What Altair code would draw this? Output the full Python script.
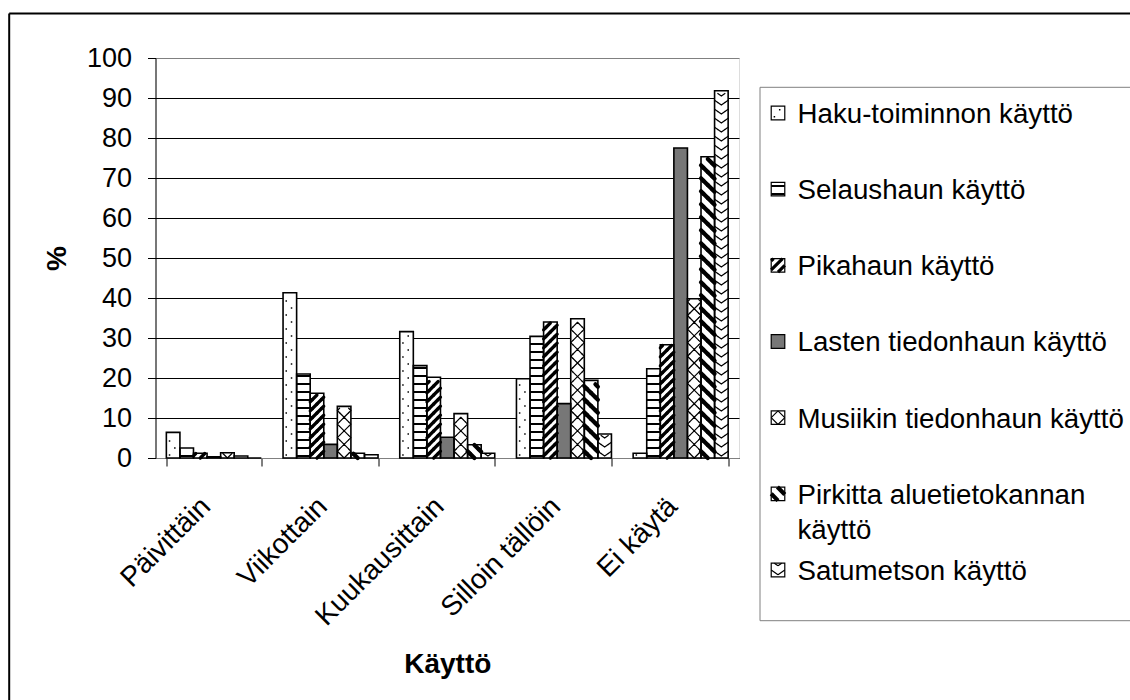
import math
import altair as alt
import pandas as pd

# ---------------- data ----------------
cats = ["Päivittäin", "Viikottain", "Kuukausittain", "Silloin tällöin", "Ei käytä"]
series = [
    "Haku-toiminnon käyttö",
    "Selaushaun käyttö",
    "Pikahaun käyttö",
    "Lasten tiedonhaun käyttö",
    "Musiikin tiedonhaun käyttö",
    "Pirkitta aluetietokannan käyttö",
    "Satumetson käyttö",
]
haku = [6.4, 41.3, 31.6, 19.8, 1.2]
selaus = [2.5, 21.0, 23.1, 30.4, 22.3]
pika = [1.2, 16.2, 20.2, 34.0, 28.3]
lasten = [0.3, 3.4, 5.2, 13.6, 77.5]
musiikki = [1.3, 12.9, 11.1, 34.8, 39.8]
pirkitta = [0.5, 1.2, 3.3, 19.4, 75.3]
satumetso = [0.0, 0.8, 1.2, 6.0, 91.8]
y_ticks = list(range(0, 101, 10))

values = [haku, selaus, pika, lasten, musiikki, pirkitta, satumetso]
rows = []
for s, vals in zip(series, values):
    for c, v in zip(cats, vals):
        rows.append({"cat": c, "series": s, "value": v})
df = pd.DataFrame(rows)
leg_df = pd.DataFrame({"series": series})

# ---------------- layout / style ----------------
FONT = "Liberation Sans"
W = 583.5
H = 400.0
PXU = H / 100.0            # pixels per percent unit
P_IN = 0.186
P_OUT = P_IN / 2
step = W / len(cats)
w = step * (1 - P_IN) / len(series)   # single bar width in px

fills = ["white", "white", "white", "#777777", "white", "white", "white"]
color_scale = alt.Scale(domain=series, range=fills)


def band_path(fams, lo, hi):
    """SVG path (unit coords) of hatch lines clipped to the band [lo, hi] (px, upward)."""
    uc = (lo + hi) / 2
    r = w / 2
    parts = []
    for a, b, P, x0, x1 in fams:
        span = abs(a) * max(abs(x0), abs(x1))
        n0 = math.floor((lo - span - b) / P) - 1
        n1 = math.ceil((hi + span - b) / P) + 1
        for n in range(n0, n1 + 1):
            c = b + n * P
            if a == 0:
                if not (lo <= c < hi):
                    continue
                X1, U1, X2, U2 = x0, c, x1, c
            else:
                xa = (lo - c) / a
                xb = (hi - c) / a
                xl = max(min(xa, xb), x0)
                xr = min(max(xa, xb), x1)
                if xr - xl <= 1e-6:
                    continue
                X1, U1, X2, U2 = xl, c + a * xl, xr, c + a * xr
            parts.append(
                f"M{X1 / r:.3f},{-(U1 - uc) / r:.3f}L{X2 / r:.3f},{-(U2 - uc) / r:.3f}"
            )
    return "".join(parts) or "M0,0"


hw = w / 2
patterns = {
    0: dict(fams=[(0, 3.0, 14.0, -0.32 * w, -0.21 * w), (0, 10.0, 14.0, 0.07 * w, 0.18 * w)],
            P=14.0, m=3, sw=1.5, cap="butt"),
    1: dict(fams=[(0, 2.0, 8.0, -hw, hw)], P=8.0, m=2, sw=2.0, cap="butt"),
    2: dict(fams=[(1, 0.0, 9.0, -hw, hw)], P=9.0, m=2, sw=3.2, cap="round"),
    4: dict(fams=[(1, 0.0, w, -hw, hw), (-1, 0.0, w, -hw, hw)], P=w, m=3, sw=1.2, cap="round"),
    5: dict(fams=[(-1, 0.0, 13.0, -hw, hw)], P=13.0, m=3, sw=4.2, cap="round"),
    6: dict(fams=[(-0.7, 2.0, 9.0, -hw, 0.0), (0.7, 2.0, 9.0, 0.0, hw)], P=9.0, m=2, sw=1.2, cap="round"),
}


def shape_expr(shapes):
    m = len(shapes)
    expr = f"'{shapes[-1]}'"
    for j in range(m - 2, -1, -1):
        expr = f"(datum.k % {m} == {j}) ? '{shapes[j]}' : {expr}"
    return expr


# ---------------- axes / encodings ----------------
yaxis = alt.Axis(
    values=y_ticks, title="%", titleFont=FONT, titleFontSize=28, titleFontWeight="bold",
    titleColor="black", titleAngle=-90, titleX=-90.5, titleY=200, titleAlign="center",
    titleBaseline="alphabetic", labelFont=FONT, labelFontSize=27, labelColor="black",
    labelPadding=16, tickSize=8, tickColor="black", tickWidth=1, domainColor="black",
    domainWidth=1, grid=True, gridWidth=1,
    gridColor={"condition": {"test": "datum.value >= 100", "value": "#808080"}, "value": "black"},
)
xaxis = alt.Axis(
    title="Käyttö", titleFont=FONT, titleFontSize=28, titleFontWeight="bold", titleColor="black",
    titleY=214, titleBaseline="alphabetic", labelAngle=-45, labelAlign="right",
    labelBaseline="middle", labelFont=FONT, labelFontSize=28, labelColor="black",
    labelPadding=36, labelOffset=-8, labelLimit=400, labelOverlap=False, tickSize=8,
    tickColor="black", tickBand="extent", domainColor="#808080", domainWidth=1, grid=False,
)
yscale = alt.Scale(domain=[0, 100], nice=False)
X = alt.X("cat:N", sort=cats, scale=alt.Scale(domain=cats, paddingInner=P_IN, paddingOuter=P_OUT), axis=xaxis)
XO = alt.XOffset("series:N", sort=series, scale=alt.Scale(domain=series, paddingInner=0, paddingOuter=0))

base = alt.Chart(df)

fill_layer = base.mark_bar(opacity=1).encode(
    x=X, xOffset=XO, y=alt.Y("value:Q", scale=yscale, axis=yaxis),
    color=alt.Color("series:N", scale=color_scale, legend=None),
)

pattern_layers = []
for idx, p in patterns.items():
    T = p["P"] / p["m"]
    shapes = [band_path(p["fams"], j * T, (j + 1) * T) for j in range(p["m"])]
    lay = (
        base.transform_filter(alt.datum.series == series[idx])
        .transform_calculate(k=f"sequence(0, floor(datum.value * {PXU} / {T} + 1e-6))")
        .transform_flatten(["k"])
        .transform_calculate(yc=f"(datum.k + 0.5) * {T} / {PXU}", shp=shape_expr(shapes))
        .mark_point(filled=False, size=w * w, stroke="black", strokeWidth=p["sw"],
                    strokeCap=p["cap"], opacity=1)
        .encode(x=X, xOffset=XO, y=alt.Y("yc:Q", scale=yscale, axis=yaxis),
                shape=alt.Shape("shp:N", scale=None))
    )
    pattern_layers.append(lay)

outline_layer = base.mark_bar(fillOpacity=0, stroke="black", strokeWidth=1.6).encode(
    x=X, xOffset=XO, y=alt.Y("value:Q", scale=yscale, axis=yaxis)
)

main = alt.layer(fill_layer, *pattern_layers, outline_layer)

# ---------------- legend (drawn as marks) ----------------
LX_SW = 622.5
LX_TX = 642.0
ly = alt.Y("series:N", sort=series,
           scale=alt.Scale(type="point", domain=series, range=[55, 512], padding=0), axis=None)
leg = alt.Chart(leg_df)
leg_sq = leg.mark_square(size=w * w, opacity=1).encode(
    x=alt.value(LX_SW), y=ly, color=alt.Color("series:N", scale=color_scale, legend=None)
)
leg_pats = []
for idx, p in patterns.items():
    leg_pats.append(
        leg.transform_filter(alt.datum.series == series[idx])
        .mark_point(shape=band_path(p["fams"], 0, w), filled=False, size=w * w, stroke="black",
                    strokeWidth=p["sw"], strokeCap="butt", opacity=1)
        .encode(x=alt.value(LX_SW), y=ly)
    )
leg_out = leg.mark_square(size=w * w, filled=False, stroke="black", strokeWidth=1.2, opacity=1).encode(
    x=alt.value(LX_SW), y=ly
)
leg_txt = (
    leg.transform_calculate(label=r"replace(datum.series, 'aluetietokannan ', 'aluetietokannan\n')")
    .mark_text(align="left", baseline="alphabetic", dy=9.9, font=FONT, fontSize=27.7,
               color="black", lineBreak="\n", lineHeight=35)
    .encode(x=alt.value(LX_TX), y=ly, text="label:N")
)
legend = alt.layer(leg_sq, *leg_pats, leg_out, leg_txt)

# ---------------- frame and legend box ----------------
one = alt.Chart(pd.DataFrame({"f": [0]}))
frame_left = one.mark_rule(color="black", strokeWidth=2).encode(
    x=alt.value(-146.3), y=alt.value(-44.5), y2=alt.value(H + 400))
frame_top = one.mark_rule(color="black", strokeWidth=2).encode(
    x=alt.value(-146.3), x2=alt.value(W + 500), y=alt.value(-44.5))
box_left = one.mark_rule(color="#808080", strokeWidth=1).encode(
    x=alt.value(604.5), y=alt.value(29.3), y2=alt.value(562.7))
box_top = one.mark_rule(color="#808080", strokeWidth=1).encode(
    x=alt.value(604.5), x2=alt.value(W + 500), y=alt.value(29.3))
box_bottom = one.mark_rule(color="#808080", strokeWidth=1).encode(
    x=alt.value(604.5), x2=alt.value(W + 500), y=alt.value(562.7))

chart = (
    alt.layer(frame_left, frame_top, box_left, box_top, box_bottom, main, legend)
    .resolve_scale(y="independent")
    .properties(
        width=W, height=H,
        autosize=alt.AutoSizeParams(type="none"),
        padding={"left": 155.5, "top": 58, "right": 1130 - 155.5 - W, "bottom": 700 - 58 - H},
        background="white",
    )
    .configure_view(stroke="#808080", strokeWidth=1)
    .configure(font=FONT)
)

chart.save("out.html", embed_options={"renderer": "svg", "actions": False})
